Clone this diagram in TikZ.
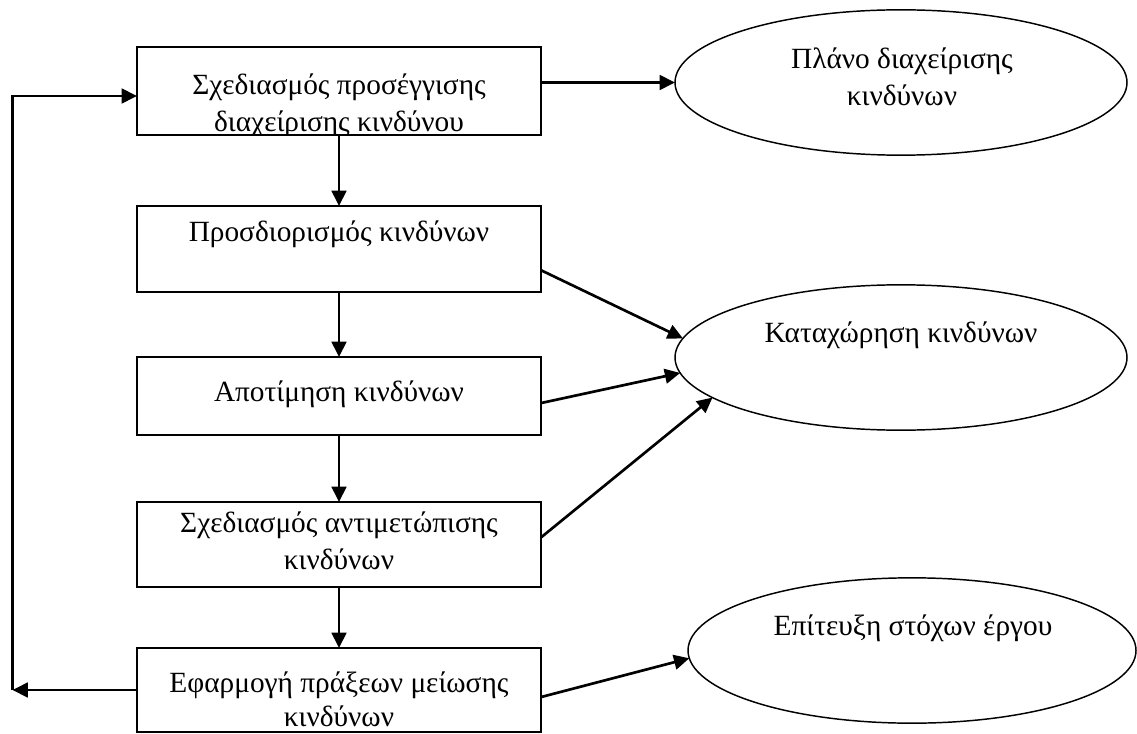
\documentclass[tikz,border=0pt]{standalone}
\usepackage{fontspec}
\setmainfont{Liberation Serif}
\usetikzlibrary{arrows.meta,shapes.geometric}
\begin{document}
\begin{tikzpicture}[x=0.75pt,y=-0.75pt,
  box/.style={draw, line width=1.2pt, rectangle, minimum width=303pt, inner sep=0pt, outer sep=0pt},
  oval/.style={draw, line width=1.1pt, ellipse, minimum width=339pt, minimum height=109pt, inner sep=0pt, outer sep=0pt},
  lbl/.style={font=\fontsize{22}{28}\selectfont, inner sep=0pt, anchor=base},
  conn/.style={line width=2pt, -{Triangle[length=11.5pt,width=11pt]}}
]
\useasboundingbox (0,0) rectangle (1137,734);

% boxes
\node[box, minimum height=66pt]    (b1) at (339,91) {};
\node[box, minimum height=64.5pt]  (b2) at (339,249) {};
\node[box, minimum height=58.5pt]  (b3) at (339,396) {};
\node[box, minimum height=63.75pt] (b4) at (339,544.5) {};
\node[box, minimum height=63pt]    (b5) at (339,690) {};

% ellipses
\node[oval] (e1) at (901,82.5) {};
\node[oval] (e2) at (901,357.5) {};
\node[oval, minimum width=336pt] (e3) at (912,650.5) {};

% texts
\begin{scope}
  \clip (b1.north west) rectangle (b1.south east);
  \node[lbl] (t1a) at (339,95) {Σχεδιασμός προσέγγισης};
  \node[lbl] (t1b) at (339,132) {διαχείρισης κινδύνου};
\end{scope}
\node[lbl] (t2) at (339,242) {Προσδιορισμός κινδύνων};
\node[lbl] (t3) at (339,401) {Αποτίμηση κινδύνων};
\node[lbl] (t4a) at (339,532) {Σχεδιασμός αντιμετώπισης};
\node[lbl] (t4b) at (339,569) {κινδύνων};
\node[lbl] (t5a) at (339,692) {Εφαρμογή πράξεων μείωσης};
\node[lbl] (t5b) at (339,726) {κινδύνων};

\node[lbl] (te1a) at (902,69) {Πλάνο διαχείρισης};
\node[lbl] (te1b) at (902,106) {κινδύνων};
\node[lbl] (te2) at (901,342) {Καταχώρηση κινδύνων};
\node[lbl] (te3) at (913,635) {Επίτευξη στόχων έργου};

% vertical flow
\draw[conn] (b1.south) -- (b2.north);
\draw[conn] (b2.south) -- (b3.north);
\draw[conn] (b3.south) -- (b4.north);
\draw[conn] (b4.south) -- (b5.north);

% to ellipses
\draw[conn] (e1.west -| b1.east) -- (e1.west);
\draw[conn] (b2.-6) -- (e2.175.6);
\draw[conn] (b3.-2.3) -- (e2.184);
\draw[conn] (b4.2.7) -- (e2.192);
\draw[conn] (b5.-2.3) -- (e3.182.4);

% feedback loop
\coordinate (lb) at (12.5,690);
\coordinate (lt) at (12.5,96);
\draw[conn] (b5.west) -- (lb);
\draw[conn] (lb) -- (lt) -- (lt -| b1.west);
\end{tikzpicture}
\end{document}
